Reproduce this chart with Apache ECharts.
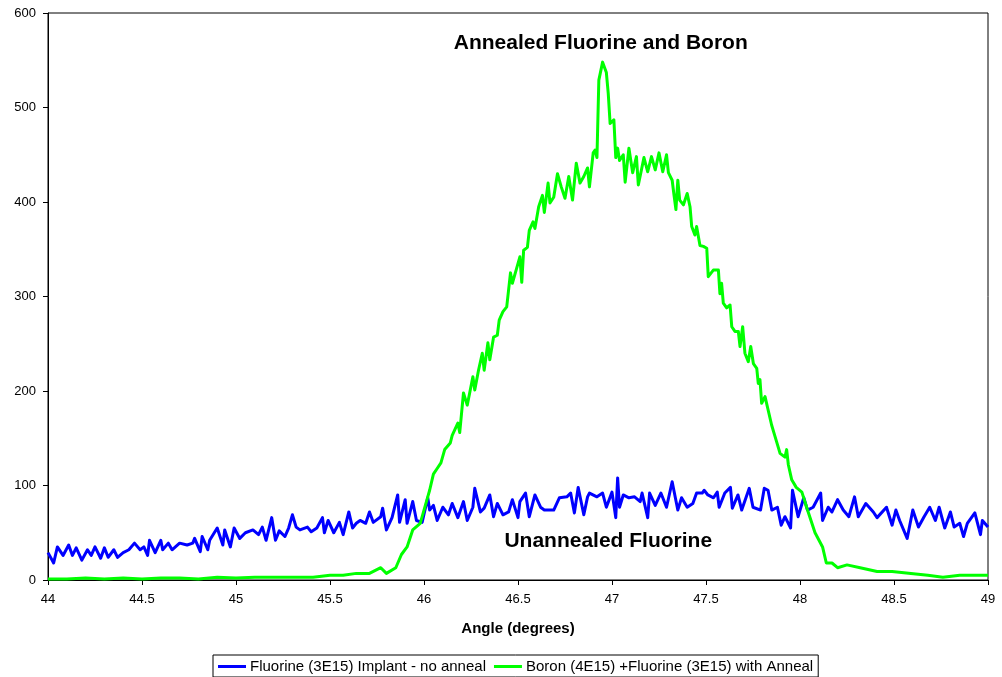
<!DOCTYPE html>
<html>
<head>
<meta charset="utf-8">
<script src="https://cdn.jsdelivr.net/npm/echarts@6/dist/echarts.min.js"></script>
<style>html,body{margin:0;padding:0;background:#fff}#c{width:1002px;height:677px}</style>
</head>
<body>
<div id="c"></div>
<script>
const seriesNames = ["Fluorine (3E15) Implant - no anneal", "Boron (4E15) +Fluorine (3E15) with Anneal"];
const annotations = ["Annealed Fluorine and Boron", "Unannealed Fluorine"];
const xTicks = [44, 44.5, 45, 45.5, 46, 46.5, 47, 47.5, 48, 48.5, 49];
const yTicks = [0, 100, 200, 300, 400, 500, 600];

const blueAngles = [44.00,44.03,44.05,44.08,44.11,44.13,44.15,44.18,44.21,44.23,44.25,44.28,44.30,44.32,44.35,44.37,44.40,44.43,44.46,44.49,44.51,44.53,44.54,44.57,44.60,44.61,44.64,44.66,44.70,44.74,44.77,44.78,44.81,44.82,44.85,44.86,44.90,44.93,44.94,44.97,44.99,45.02,45.05,45.09,45.12,45.14,45.16,45.19,45.21,45.23,45.26,45.28,45.30,45.32,45.34,45.38,45.40,45.43,45.46,45.47,45.49,45.52,45.55,45.57,45.60,45.62,45.64,45.66,45.69,45.71,45.73,45.77,45.78,45.80,45.83,45.86,45.87,45.90,45.91,45.94,45.96,45.99,46.02,46.03,46.05,46.07,46.10,46.13,46.15,46.18,46.21,46.23,46.26,46.27,46.30,46.32,46.35,46.37,46.39,46.42,46.45,46.47,46.50,46.51,46.54,46.56,46.59,46.62,46.64,46.69,46.72,46.76,46.78,46.80,46.82,46.85,46.87,46.88,46.92,46.95,46.97,47.00,47.02,47.03,47.04,47.06,47.09,47.12,47.15,47.16,47.19,47.20,47.23,47.26,47.29,47.32,47.35,47.37,47.40,47.43,47.45,47.48,47.49,47.51,47.54,47.56,47.57,47.60,47.63,47.64,47.67,47.69,47.73,47.75,47.79,47.81,47.83,47.85,47.88,47.90,47.92,47.95,47.96,47.99,48.02,48.04,48.07,48.11,48.12,48.15,48.17,48.20,48.23,48.26,48.29,48.31,48.35,48.36,48.39,48.41,48.46,48.49,48.51,48.53,48.57,48.60,48.63,48.66,48.69,48.72,48.74,48.77,48.80,48.82,48.85,48.87,48.89,48.93,48.96,48.97,49.00];
const blueCounts = [29,18,35,26,37,26,34,21,32,26,35,23,34,24,32,24,29,32,39,32,35,26,42,29,42,32,39,32,39,37,39,44,30,46,32,42,55,37,53,35,55,44,50,53,48,56,42,66,42,52,46,55,69,56,53,56,51,55,66,50,63,50,61,48,72,55,60,63,60,72,61,67,76,53,66,90,61,85,60,83,63,61,87,74,79,63,77,69,81,66,83,63,77,97,72,76,90,67,81,69,72,85,66,83,92,67,90,77,74,74,87,88,92,71,98,69,88,92,88,92,77,93,66,108,77,90,87,88,83,92,66,92,79,92,77,104,74,87,77,81,92,92,95,90,87,93,77,92,98,76,90,74,97,77,74,97,95,74,77,58,67,55,95,67,87,74,77,92,63,77,72,85,74,67,88,67,81,83,72,66,77,58,74,63,44,74,56,67,77,63,77,55,72,56,60,46,60,71,48,63,56];

const greenAngles = [44.00,44.10,44.20,44.30,44.40,44.50,44.60,44.70,44.80,44.90,45.00,45.10,45.20,45.32,45.41,45.50,45.57,45.64,45.71,45.77,45.80,45.85,45.88,45.91,45.94,45.98,46.00,46.02,46.03,46.05,46.07,46.09,46.11,46.14,46.15,46.18,46.19,46.21,46.23,46.26,46.27,46.29,46.31,46.32,46.34,46.35,46.37,46.39,46.40,46.42,46.44,46.46,46.47,46.49,46.51,46.52,46.53,46.55,46.56,46.58,46.59,46.61,46.63,46.64,46.66,46.67,46.69,46.71,46.73,46.75,46.77,46.79,46.81,46.83,46.85,46.87,46.88,46.90,46.91,46.92,46.93,46.95,46.97,46.98,46.99,47.01,47.02,47.03,47.04,47.06,47.07,47.09,47.11,47.13,47.14,47.17,47.19,47.21,47.23,47.25,47.27,47.29,47.30,47.32,47.33,47.34,47.35,47.36,47.38,47.40,47.415,47.424,47.441,47.45,47.468,47.486,47.504,47.512,47.539,47.566,47.574,47.583,47.592,47.61,47.628,47.637,47.654,47.672,47.681,47.695,47.707,47.725,47.738,47.752,47.77,47.778,47.787,47.796,47.814,47.823,47.849,47.867,47.876,47.894,47.92,47.929,47.938,47.956,47.98,48.01,48.04,48.08,48.12,48.14,48.17,48.20,48.25,48.32,48.41,48.49,48.59,48.68,48.76,48.85,48.94,49.00];
const greenCounts = [1,1,2,1,2,1,2,2,1,3,2,3,3,3,3,5,5,7,7,13,7,13,27,35,53,60,74,88,95,112,118,124,138,145,153,166,156,198,185,215,201,222,240,222,251,233,257,259,275,284,289,325,314,328,342,315,349,352,370,379,372,395,407,389,420,399,405,430,416,404,427,402,441,420,427,436,416,452,455,447,529,548,537,515,483,487,447,457,444,450,421,457,431,448,418,447,432,448,434,452,432,450,431,423,407,392,423,402,397,409,395,374,365,374,354,353,351,321,328,328,303,314,293,288,291,268,263,263,247,268,240,231,247,229,224,208,212,187,194,194,164,152,153,134,130,138,122,106,98,93,74,50,35,18,18,13,16,13,9,9,7,5,3,5,5,5];

const annotationPos = [[46.94, 568], [46.98, 41]];

const pair = (xs, ys) => xs.map((x, i) => [x, ys[i]]);
const FONT = "'Liberation Sans', Arial, Helvetica, sans-serif";

const chart = echarts.init(document.getElementById('c'), null, {renderer: 'canvas'});
chart.setOption({
  animation: false,
  backgroundColor: '#ffffff',
  textStyle: {fontFamily: FONT},
  grid: {left: 48, right: 14, top: 13, bottom: 97, show: true, borderColor: '#000', borderWidth: 1, backgroundColor: 'transparent'},
  legend: {
    bottom: 0, left: 213,
    data: seriesNames,
    orient: 'horizontal',
    borderColor: '#000', borderWidth: 1,
    padding: [4, 5, 3, 5],
    itemWidth: 28, itemHeight: 3, itemGap: 8,
    icon: 'rect',
    textStyle: {fontFamily: FONT, fontSize: 15, color: '#000', padding: [0, 0, 0, -1]}
  },
  xAxis: {
    type: 'value', min: xTicks[0], max: xTicks[xTicks.length - 1], interval: 0.5,
    name: 'Angle (degrees)', nameLocation: 'middle', nameGap: 41,
    nameTextStyle: {fontFamily: FONT, fontSize: 15, fontWeight: 'bold', color: '#000'},
    axisLine: {lineStyle: {color: '#000', width: 1}},
    axisTick: {show: true, length: 5, inside: false, lineStyle: {color: '#000'}},
    axisLabel: {fontFamily: FONT, fontSize: 13, color: '#000', margin: 13},
    splitLine: {show: false}
  },
  yAxis: {
    type: 'value', min: yTicks[0], max: yTicks[yTicks.length - 1], interval: 100,
    axisLine: {show: true, lineStyle: {color: '#000', width: 1}},
    axisTick: {show: true, length: 5, inside: false, lineStyle: {color: '#000'}},
    axisLabel: {fontFamily: FONT, fontSize: 13, color: '#000', margin: 12},
    splitLine: {show: false}
  },
  series: [
    {
      name: seriesNames[0], type: 'line', data: pair(blueAngles, blueCounts),
      showSymbol: false, symbol: 'none', color: '#0000ff',
      lineStyle: {color: '#0000ff', width: 3, join: 'round'},
      markPoint: {
        symbol: 'circle', symbolSize: 0, silent: true,
        label: {show: true, position: 'inside', formatter: annotations[1], fontFamily: FONT, fontSize: 21, fontWeight: 'bold', color: '#000'},
        data: [{coord: annotationPos[1]}]
      }
    },
    {
      name: seriesNames[1], type: 'line', data: pair(greenAngles, greenCounts),
      showSymbol: false, symbol: 'none', color: '#00ff00',
      lineStyle: {color: '#00ff00', width: 3, join: 'round'},
      markPoint: {
        symbol: 'circle', symbolSize: 0, silent: true,
        label: {show: true, position: 'inside', formatter: annotations[0], fontFamily: FONT, fontSize: 21, fontWeight: 'bold', color: '#000'},
        data: [{coord: annotationPos[0]}]
      }
    }
  ]
});
</script>
</body>
</html>
